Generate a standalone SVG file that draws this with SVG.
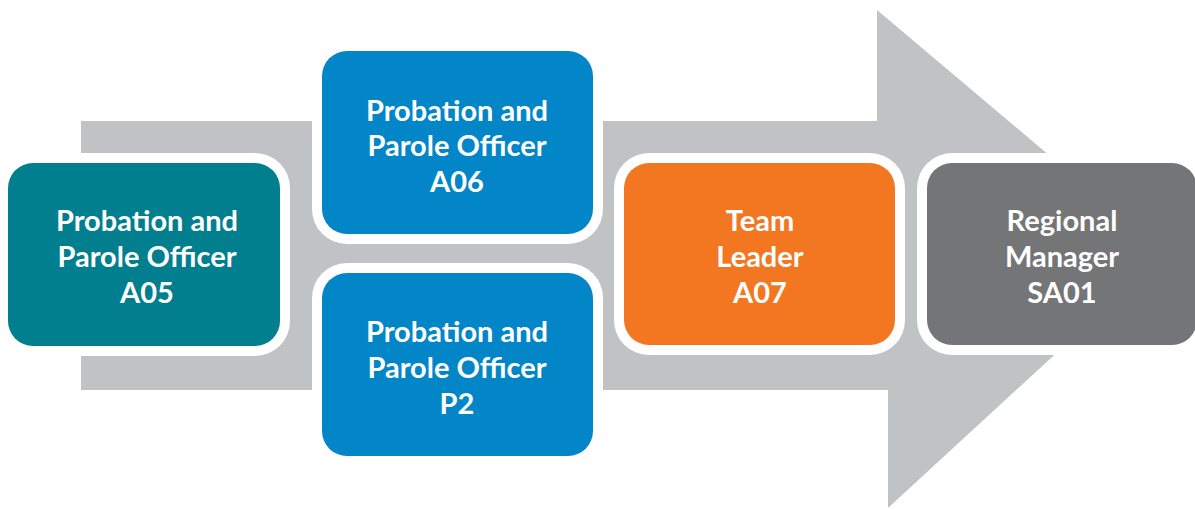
<svg xmlns="http://www.w3.org/2000/svg" width="1195" height="509" viewBox="0 0 1195 509">
<style>
.frame{fill:#ffffff}
.lbl{font-family:Lato,"Liberation Sans",sans-serif;font-weight:bold;font-size:29px;fill:#ffffff;text-anchor:middle}
</style>
<rect width="1195" height="509" fill="#ffffff"/>
<g id="connectors">
<path d="M81,121 L877,121 L877,10 L1165,253 L888,508 L888,390 L81,390 Z" fill="#c1c2c4"/>
</g>
<g id="n-a05">
<rect class="frame" x="-2" y="153" width="292" height="203" rx="35"/>
<rect x="8" y="163" width="272" height="183" rx="25" fill="#017f8f"/>
<text class="lbl" x="147" y="231">Probation and</text>
<text class="lbl" x="147" y="267">Parole Officer</text>
<text class="lbl" x="147" y="303">A05</text>
</g>
<g id="n-a06">
<rect class="frame" x="312" y="41" width="291" height="203" rx="35"/>
<rect x="322" y="51" width="271" height="183" rx="25" fill="#0286c8"/>
<text class="lbl" x="457" y="121">Probation and</text>
<text class="lbl" x="457" y="156">Parole Officer</text>
<text class="lbl" x="457" y="192">A06</text>
</g>
<g id="n-p2">
<rect class="frame" x="312" y="263" width="291" height="203" rx="35"/>
<rect x="322" y="273" width="271" height="183" rx="25" fill="#0286c8"/>
<text class="lbl" x="457" y="342">Probation and</text>
<text class="lbl" x="457" y="378">Parole Officer</text>
<text class="lbl" x="457" y="414">P2</text>
</g>
<g id="n-a07">
<rect class="frame" x="614" y="153" width="291" height="202" rx="35"/>
<rect x="624" y="163" width="271" height="182" rx="25" fill="#f37621"/>
<text class="lbl" x="760" y="231">Team</text>
<text class="lbl" x="760" y="267">Leader</text>
<text class="lbl" x="760" y="303">A07</text>
</g>
<g id="n-sa01">
<rect class="frame" x="917" y="153" width="290" height="202" rx="35"/>
<rect x="927" y="163" width="270" height="182" rx="25" fill="#747577"/>
<text class="lbl" x="1062" y="231">Regional</text>
<text class="lbl" x="1062" y="267">Manager</text>
<text class="lbl" x="1062" y="303">SA01</text>
</g>
</svg>
